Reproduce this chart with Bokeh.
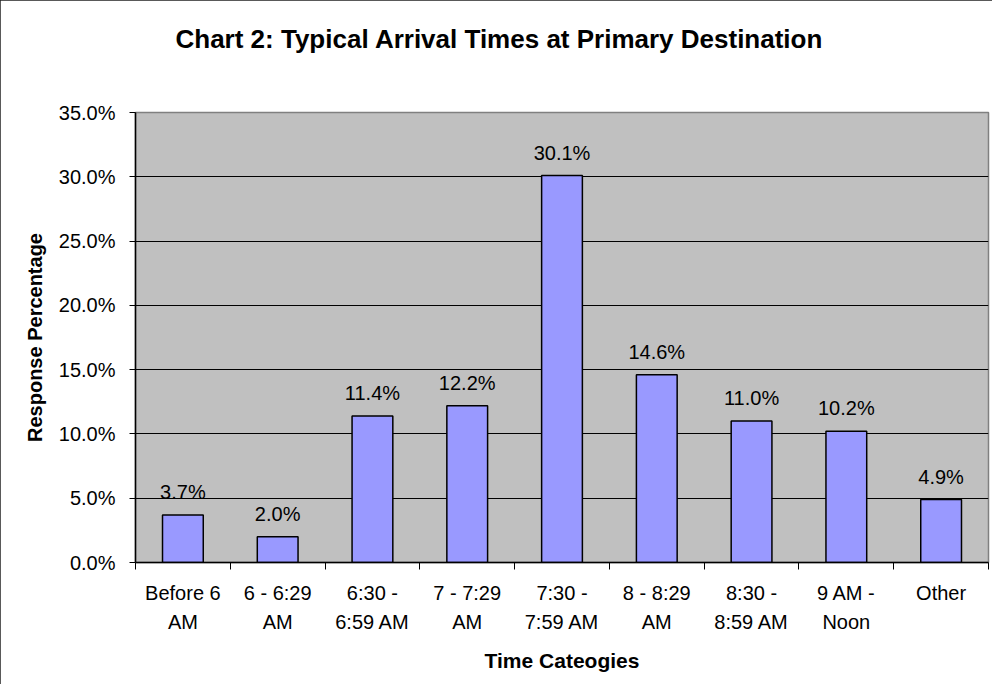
from bokeh.plotting import figure
from bokeh.models import ColumnDataSource, FixedTicker, LabelSet, Title, Range1d
from bokeh.core.properties import value
from bokeh.embed import file_html
from bokeh.resources import INLINE

title_text = "Chart 2:  Typical Arrival Times at Primary Destination"
categories = ["Before 6\nAM", "6 - 6:29\nAM", "6:30 -\n6:59 AM", "7 - 7:29\nAM",
              "7:30 -\n7:59 AM", "8 - 8:29\nAM", "8:30 -\n8:59 AM", "9 AM -\nNoon", "Other"]
values = [3.7, 2.0, 11.4, 12.2, 30.1, 14.6, 11.0, 10.2, 4.9]
y_ticks = [0, 5, 10, 15, 20, 25, 30, 35]

FONT = "Liberation Sans"

centers = [i + 0.5 for i in range(len(categories))]
bounds = [i for i in range(len(categories) + 1)]
labels = ["%.1f%%" % v for v in values]

src = ColumnDataSource(dict(x=centers, top=values, label=labels))

p = figure(width=992, height=684, output_backend="svg", toolbar_location=None,
           x_range=Range1d(0, len(categories)), y_range=Range1d(0, 35),
           min_border_left=135, min_border_right=4, min_border_top=112,
           min_border_bottom=122, title=title_text)
p.styles = {"outline": "2px solid #222222", "outline-offset": "-2px"}

p.title.text_font = FONT
p.title.text_font_size = "26px"
p.title.text_font_style = "bold"
p.title.align = "left"
p.title.offset = 40
p.title.standoff = 10
p.title.text_color = "black"

# empty spacer between the title and the plot frame
p.add_layout(Title(text=" ", text_font_size="20px", standoff=30), "above")

p.background_fill_color = "#c0c0c0"
p.border_fill_color = "white"
p.outline_line_color = "#808080"
p.outline_line_width = 1.5

p.vbar(x="x", top="top", width=0.43, source=src, fill_color="#9999ff",
       line_color="black", line_width=1.5)

p.add_layout(LabelSet(x="x", y="top", text="label", source=src, text_align="center",
                      text_baseline="alphabetic", y_offset=16, text_font_size=value("20px"),
                      text_font=value(FONT), text_color="black"))

# x axis
xa = p.xaxis[0]
xa.ticker = FixedTicker(ticks=centers, minor_ticks=bounds)
xa.major_label_overrides = {c: lab for c, lab in zip(centers, categories)}
xa.major_tick_line_color = None
xa.major_tick_out = 6
xa.major_tick_in = 0
xa.minor_tick_out = 7
xa.minor_tick_in = 0
xa.minor_tick_line_color = "black"
xa.minor_tick_line_width = 1
xa.major_label_standoff = 12
xa.major_label_text_font = FONT
xa.major_label_text_font_size = "20px"
xa.major_label_text_line_height = 1.35
xa.major_label_text_color = "black"
xa.axis_line_color = "black"
xa.axis_line_width = 1.5
xa.axis_label = "Time Cateogies"
xa.axis_label_text_font = FONT
xa.axis_label_text_font_size = "21px"
xa.axis_label_text_font_style = "bold"
xa.axis_label_standoff = 13
xa.axis_label_text_color = "black"

# y axis
ya = p.yaxis[0]
ya.ticker = FixedTicker(ticks=y_ticks)
ya.major_label_overrides = {t: "%.1f%%" % t for t in y_ticks}
ya.minor_tick_line_color = None
ya.major_tick_out = 6
ya.major_tick_in = 0
ya.major_tick_line_color = "black"
ya.major_label_standoff = 14
ya.major_label_text_font = FONT
ya.major_label_text_font_size = "20px"
ya.major_label_text_color = "black"
ya.axis_line_color = "black"
ya.axis_line_width = 1.5
ya.axis_label = "Response Percentage"
ya.axis_label_text_font = FONT
ya.axis_label_text_font_size = "20px"
ya.axis_label_text_font_style = "bold"
ya.axis_label_standoff = 10
ya.axis_label_text_color = "black"

p.xgrid.grid_line_color = None
p.ygrid.ticker = FixedTicker(ticks=y_ticks)
p.ygrid.grid_line_color = "black"
p.ygrid.grid_line_width = 1

open("out.html", "w").write(file_html(p, INLINE))
